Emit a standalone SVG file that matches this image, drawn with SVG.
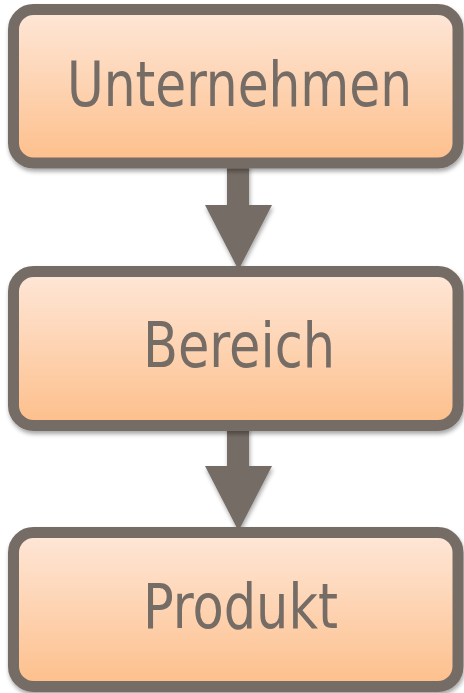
<svg xmlns="http://www.w3.org/2000/svg" width="464" height="693" viewBox="0 0 464 693">
<defs>
<linearGradient id="g" x1="0" y1="0" x2="0" y2="1">
<stop offset="0" stop-color="#fee7d8"/>
<stop offset="1" stop-color="#fdbf8b"/>
</linearGradient>
<filter id="sh" x="-10%" y="-10%" width="120%" height="130%">
<feDropShadow dx="1" dy="3" stdDeviation="2" flood-color="#000" flood-opacity="0.35"/>
</filter>
<style>
.box{fill:url(#g);stroke:#766c66;stroke-width:11;filter:url(#sh)}
.lbl{font-family:"DejaVu Sans Condensed","DejaVu Sans",sans-serif;font-stretch:condensed;font-size:62px;fill:#756c66;text-anchor:middle}
.arr{fill:#766c66;filter:url(#sh)}
</style>
</defs>
<rect width="464" height="693" fill="#ffffff"/>
<g id="connectors">
<path class="arr" d="M227,163 H249 V205 H272 L238.5,270 L205,205 H227 Z"/>
<path class="arr" d="M227,426 H249 V466 H272 L238.5,531 L205,466 H227 Z"/>
</g>
<g id="node-unternehmen">
<rect class="box" x="13.5" y="9.5" width="444.5" height="153.5" rx="20"/>
<text class="lbl" x="239.5" y="106" textLength="345" lengthAdjust="spacingAndGlyphs">Unternehmen</text>
</g>
<g id="node-bereich">
<rect class="box" x="13.5" y="271.5" width="444.5" height="154" rx="20"/>
<text class="lbl" x="239" y="367" textLength="192" lengthAdjust="spacingAndGlyphs">Bereich</text>
</g>
<g id="node-produkt">
<rect class="box" x="13.5" y="532.5" width="444.5" height="154" rx="20"/>
<text class="lbl" x="240.5" y="628" textLength="195" lengthAdjust="spacingAndGlyphs">Produkt</text>
</g>
</svg>
